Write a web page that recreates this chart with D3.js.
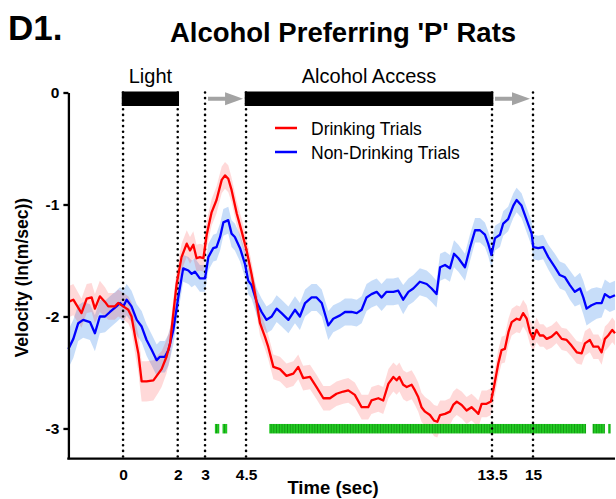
<!DOCTYPE html>
<html><head><meta charset="utf-8">
<script src="https://cdn.jsdelivr.net/npm/d3@7"></script>
<style>
body{margin:0;background:#fff}
svg{display:block}
text{font-family:"Liberation Sans",Arial,Helvetica,sans-serif;fill:#000}
</style>
</head><body>
<svg id="chart" width="616" height="499"></svg>
<script>
// ---------------- data ----------------
const xTicks = [0, 2, 3, 4.5, 13.5, 15];
const xTickLabels = ["0", "2", "3", "4.5", "13.5", "15"];
const yTicks = [0, -1, -2, -3];
const yTickLabels = ["0", "-1", "-2", "-3"];
const eventTimes = [0, 2, 3, 4.5, 13.5, 15];
const lightPeriod = [0, 2];
const accessPeriod = [4.5, 13.5];
const arrowPeriods = [[3, 4.5], [13.5, 15]];
const periodLabels = [{text: "Light", t: 1}, {text: "Alcohol Access", t: 9}];
const seriesNames = ["Drinking Trials", "Non-Drinking Trials"];
// significance (green) time ranges, sec
const sigRanges = [[3.36, 3.52], [3.64, 3.81], [5.35, 16.94], [17.18, 17.63], [17.75, 17.84]];
const sigBin = 0.1;

// [time, mean, sem]
const drinkingTrials = [
[-2.00,-1.87,0.14],[-1.82,-1.85,0.14],[-1.52,-1.97,0.13],[-1.33,-1.84,0.13],[-1.15,-1.83,0.13],
[-1.03,-1.93,0.13],[-0.85,-1.82,0.14],[-0.66,-1.87,0.13],[-0.54,-1.91,0.12],[-0.30,-1.91,0.12],
[-0.18,-1.88,0.12],[0.01,-1.91,0.12],[0.19,-1.94,0.12],[0.31,-2.00,0.13],[0.44,-2.18,0.15],
[0.56,-2.33,0.17],[0.68,-2.58,0.18],[0.86,-2.58,0.18],[1.11,-2.57,0.18],[1.29,-2.51,0.17],
[1.41,-2.47,0.16],[1.59,-2.36,0.15],[1.72,-2.24,0.14],[1.84,-1.97,0.13],[1.96,-1.71,0.13],
[2.14,-1.47,0.12],[2.33,-1.35,0.12],[2.45,-1.41,0.12],[2.57,-1.36,0.12],[2.69,-1.48,0.12],
[2.81,-1.47,0.12],[2.94,-1.48,0.12],[3.06,-1.27,0.12],[3.24,-1.07,0.12],[3.42,-0.96,0.12],
[3.61,-0.78,0.12],[3.73,-0.74,0.12],[3.85,-0.77,0.12],[3.97,-0.87,0.11],[4.16,-1.08,0.11],
[4.34,-1.24,0.11],[4.52,-1.41,0.11],[4.70,-1.62,0.11],[4.89,-1.88,0.11],[5.01,-2.06,0.11],
[5.19,-2.18,0.11],[5.31,-2.27,0.11],[5.50,-2.45,0.11],[5.74,-2.47,0.11],[5.98,-2.53,0.11],
[6.23,-2.51,0.11],[6.41,-2.45,0.11],[6.59,-2.55,0.11],[6.84,-2.54,0.11],[7.08,-2.63,0.11],
[7.33,-2.73,0.11],[7.57,-2.73,0.11],[7.81,-2.69,0.11],[8.06,-2.67,0.11],[8.24,-2.66,0.11],
[8.48,-2.70,0.11],[8.73,-2.81,0.11],[8.97,-2.81,0.11],[9.09,-2.75,0.12],[9.34,-2.73,0.12],
[9.52,-2.75,0.12],[9.71,-2.60,0.13],[9.89,-2.54,0.13],[10.01,-2.57,0.13],[10.11,-2.54,0.13],
[10.25,-2.61,0.13],[10.38,-2.63,0.13],[10.56,-2.61,0.13],[10.68,-2.66,0.13],[10.80,-2.72,0.13],
[10.92,-2.81,0.13],[11.05,-2.85,0.13],[11.23,-2.88,0.13],[11.38,-2.93,0.14],[11.50,-2.94,0.14],
[11.60,-2.88,0.13],[11.78,-2.87,0.12],[11.96,-2.85,0.12],[12.08,-2.79,0.12],[12.21,-2.76,0.12],
[12.39,-2.79,0.12],[12.57,-2.84,0.12],[12.75,-2.81,0.12],[12.88,-2.84,0.12],[13.00,-2.87,0.12],
[13.12,-2.78,0.12],[13.30,-2.78,0.12],[13.46,-2.76,0.12],[13.57,-2.63,0.12],[13.73,-2.42,0.12],
[13.85,-2.30,0.12],[13.97,-2.29,0.12],[14.10,-2.14,0.12],[14.22,-2.05,0.12],[14.40,-2.02,0.12],
[14.52,-2.03,0.12],[14.64,-1.97,0.12],[14.77,-2.02,0.12],[14.89,-2.14,0.11],[15.01,-2.20,0.11],
[15.13,-2.12,0.11],[15.25,-2.17,0.10],[15.38,-2.17,0.10],[15.50,-2.20,0.10],[15.68,-2.18,0.10],
[15.86,-2.14,0.10],[16.05,-2.20,0.10],[16.23,-2.21,0.10],[16.41,-2.26,0.10],[16.60,-2.32,0.10],
[16.78,-2.33,0.10],[16.90,-2.24,0.11],[17.08,-2.21,0.11],[17.21,-2.27,0.11],[17.39,-2.27,0.11],
[17.51,-2.32,0.11],[17.63,-2.20,0.11],[17.75,-2.17,0.11],[17.90,-2.12,0.11],[18.00,-2.15,0.11]
];

const nonDrinkingTrials = [
[-2.00,-2.29,0.17],[-1.82,-2.20,0.17],[-1.64,-2.06,0.16],[-1.46,-2.03,0.16],[-1.21,-2.05,0.16],
[-1.03,-2.15,0.16],[-0.85,-2.00,0.15],[-0.66,-2.00,0.14],[-0.48,-1.96,0.14],[-0.24,-1.91,0.14],
[-0.11,-1.88,0.14],[0.01,-1.91,0.14],[0.13,-1.85,0.14],[0.31,-1.91,0.14],[0.50,-2.03,0.14],
[0.68,-2.09,0.14],[0.86,-2.21,0.14],[1.05,-2.30,0.14],[1.23,-2.39,0.14],[1.35,-2.36,0.14],
[1.53,-2.36,0.14],[1.66,-2.30,0.14],[1.84,-2.12,0.13],[2.02,-1.83,0.13],[2.20,-1.57,0.12],
[2.39,-1.59,0.12],[2.51,-1.62,0.12],[2.63,-1.60,0.12],[2.81,-1.66,0.12],[3.00,-1.66,0.12],
[3.12,-1.47,0.12],[3.30,-1.39,0.12],[3.42,-1.38,0.12],[3.55,-1.29,0.12],[3.67,-1.16,0.12],
[3.85,-1.14,0.12],[3.97,-1.26,0.12],[4.09,-1.29,0.12],[4.28,-1.39,0.12],[4.46,-1.53,0.12],
[4.58,-1.68,0.12],[4.70,-1.72,0.12],[4.89,-1.87,0.12],[5.07,-1.96,0.12],[5.25,-2.03,0.12],
[5.44,-2.00,0.12],[5.62,-1.93,0.12],[5.80,-1.97,0.12],[6.05,-2.03,0.12],[6.29,-1.94,0.12],
[6.47,-2.00,0.12],[6.66,-1.88,0.12],[6.90,-1.83,0.12],[7.08,-1.83,0.12],[7.27,-1.88,0.12],
[7.51,-2.08,0.13],[7.69,-2.02,0.12],[7.94,-1.99,0.12],[8.12,-1.96,0.12],[8.36,-1.96,0.12],
[8.55,-1.97,0.12],[8.73,-1.94,0.12],[8.91,-1.83,0.12],[9.09,-1.80,0.12],[9.28,-1.78,0.12],
[9.46,-1.83,0.12],[9.64,-1.78,0.12],[9.89,-1.78,0.12],[10.07,-1.77,0.12],[10.25,-1.85,0.13],
[10.44,-1.78,0.12],[10.62,-1.75,0.12],[10.86,-1.69,0.12],[11.11,-1.71,0.12],[11.29,-1.75,0.12],
[11.47,-1.80,0.12],[11.60,-1.56,0.12],[11.78,-1.54,0.12],[11.96,-1.57,0.12],[12.11,-1.44,0.12],
[12.27,-1.48,0.12],[12.51,-1.56,0.12],[12.69,-1.39,0.12],[12.88,-1.23,0.11],[13.06,-1.23,0.11],
[13.24,-1.27,0.11],[13.36,-1.35,0.11],[13.48,-1.45,0.12],[13.61,-1.30,0.11],[13.79,-1.27,0.11],
[13.91,-1.17,0.11],[14.09,-1.13,0.11],[14.28,-1.01,0.11],[14.40,-0.96,0.11],[14.58,-1.01,0.11],
[14.77,-1.14,0.11],[14.95,-1.26,0.11],[15.01,-1.38,0.11],[15.19,-1.39,0.11],[15.37,-1.38,0.11],
[15.56,-1.47,0.11],[15.80,-1.56,0.12],[15.98,-1.63,0.12],[16.17,-1.65,0.12],[16.35,-1.72,0.13],
[16.53,-1.78,0.13],[16.72,-1.75,0.14],[16.84,-1.83,0.15],[16.96,-1.93,0.15],[17.14,-1.90,0.15],
[17.33,-1.88,0.14],[17.51,-1.88,0.13],[17.63,-1.80,0.13],[17.81,-1.83,0.13],[18.00,-1.81,0.13]
];

// ---------------- chart ----------------
const svg = d3.select("#chart");
const x = d3.scaleLinear().domain([-2, 18]).range([68.4, 615]);
const y = d3.scaleLinear().domain([-3.27, 0]).range([458.7, 92.5]);

const colors = {drink: "#ff0000", non: "#0000ff", drinkBand: "rgba(255,0,0,0.15)", nonBand: "rgba(30,120,230,0.25)"};

// titles
svg.append("text").attr("x", 8).attr("y", 40).attr("font-size", 35).attr("font-weight", "bold").text("D1.");
svg.append("text").attr("x", 343).attr("y", 42).attr("text-anchor", "middle")
  .attr("font-size", 27.5).attr("font-weight", "bold").text("Alcohol Preferring 'P' Rats");

// bands
const area = d3.area().x(d => x(d[0])).y0(d => y(d[1] - d[2])).y1(d => y(d[1] + d[2]));
svg.append("path").datum(nonDrinkingTrials).attr("d", area).attr("fill", colors.nonBand);
svg.append("path").datum(drinkingTrials).attr("d", area).attr("fill", colors.drinkBand);

// significance marks
const defs = svg.append("defs");
const binW = x(sigBin) - x(0);
const pat = defs.append("pattern").attr("id", "sig").attr("patternUnits", "userSpaceOnUse")
  .attr("x", x(0)).attr("y", 0).attr("width", binW).attr("height", 20);
pat.append("rect").attr("width", binW).attr("height", 20).attr("fill", "#22c922");
pat.append("rect").attr("width", 0.9).attr("height", 20).attr("fill", "#119a11");
svg.append("g").selectAll("rect").data(sigRanges).join("rect")
  .attr("x", d => x(d[0])).attr("width", d => x(d[1]) - x(d[0]))
  .attr("y", y(-3) - 4.5).attr("height", 9.5).attr("fill", "url(#sig)");

// event lines (dotted)
svg.append("g").selectAll("line").data(eventTimes).join("line")
  .attr("x1", d => x(d)).attr("x2", d => x(d))
  .attr("y1", y(0)).attr("y2", y(-3.27))
  .attr("stroke", "#000").attr("stroke-width", 2.6)
  .attr("stroke-dasharray", "0,5.6").attr("stroke-linecap", "round");

// mean lines
const line = d3.line().x(d => x(d[0])).y(d => y(d[1]));
svg.append("path").datum(nonDrinkingTrials).attr("d", line).attr("fill", "none")
  .attr("stroke", colors.non).attr("stroke-width", 2.3).attr("stroke-linejoin", "round");
svg.append("path").datum(drinkingTrials).attr("d", line).attr("fill", "none")
  .attr("stroke", colors.drink).attr("stroke-width", 2.3).attr("stroke-linejoin", "round");

// period bars
const barTop = y(0) - 1, barH = 14.5;
[lightPeriod, accessPeriod].forEach(p => {
  svg.append("rect").attr("x", x(p[0]) - 1.3).attr("width", x(p[1]) - x(p[0]) + 2.6)
    .attr("y", barTop).attr("height", barH).attr("fill", "#000");
});
periodLabels.forEach(l => {
  svg.append("text").attr("x", x(l.t)).attr("y", 83).attr("text-anchor", "middle")
    .attr("font-size", 20).text(l.text);
});
// arrows
const ay = barTop + barH / 2;
arrowPeriods.forEach(p => {
  const x0 = x(p[0]) + 3, x1 = x(p[1]) - 3;
  svg.append("rect").attr("x", x0).attr("y", ay - 2).attr("width", x1 - 17 - x0).attr("height", 4).attr("fill", "#a3a3a3");
  svg.append("path").attr("d", `M${x1 - 18},${ay - 6.5}L${x1},${ay}L${x1 - 18},${ay + 6.5}Z`).attr("fill", "#a3a3a3");
});

// axes
const yAxis = svg.append("g").attr("transform", `translate(${x.range()[0]},0)`)
  .call(d3.axisLeft(y).tickValues(yTicks).tickFormat((d, i) => yTickLabels[i]).tickSize(5).tickSizeOuter(0).tickPadding(4));
const xAxis = svg.append("g").attr("transform", `translate(0,${y.range()[0]})`)
  .call(d3.axisBottom(x).tickValues(xTicks).tickFormat((d, i) => xTickLabels[i]).tickSize(0).tickSizeOuter(0).tickPadding(10));
[yAxis, xAxis].forEach(a => {
  a.select(".domain").attr("stroke", "#000").attr("stroke-width", 2.3);
  a.selectAll(".tick line").attr("stroke", "#000").attr("stroke-width", 2.3);
  a.selectAll(".tick text").attr("font-size", 15.5).attr("font-weight", "bold")
    .attr("font-family", '"Liberation Sans",Arial,sans-serif').attr("fill", "#000");
});
xAxis.select(".domain").attr("d", `M${x.range()[0] - 1.1},0H${x.range()[1]}`);

svg.append("text").attr("x", 333).attr("y", 494).attr("text-anchor", "middle")
  .attr("font-size", 18.5).attr("font-weight", "bold").text("Time (sec)");
svg.append("text").attr("transform", `translate(28,${(y(0) + y(-3.27)) / 2 + 2}) rotate(-90)`).attr("text-anchor", "middle")
  .attr("font-size", 17.5).attr("font-weight", "bold").text("Velocity (ln(m/sec))");

// legend
const leg = svg.append("g").attr("transform", "translate(275,128)");
[[colors.drink, seriesNames[0]], [colors.non, seriesNames[1]]].forEach((d, i) => {
  leg.append("line").attr("x1", 0).attr("x2", 22).attr("y1", i * 24).attr("y2", i * 24)
    .attr("stroke", d[0]).attr("stroke-width", 2.5);
  leg.append("text").attr("x", 36).attr("y", i * 24 + 6.5).attr("font-size", 17.5).text(d[1]);
});
</script>
</body></html>
